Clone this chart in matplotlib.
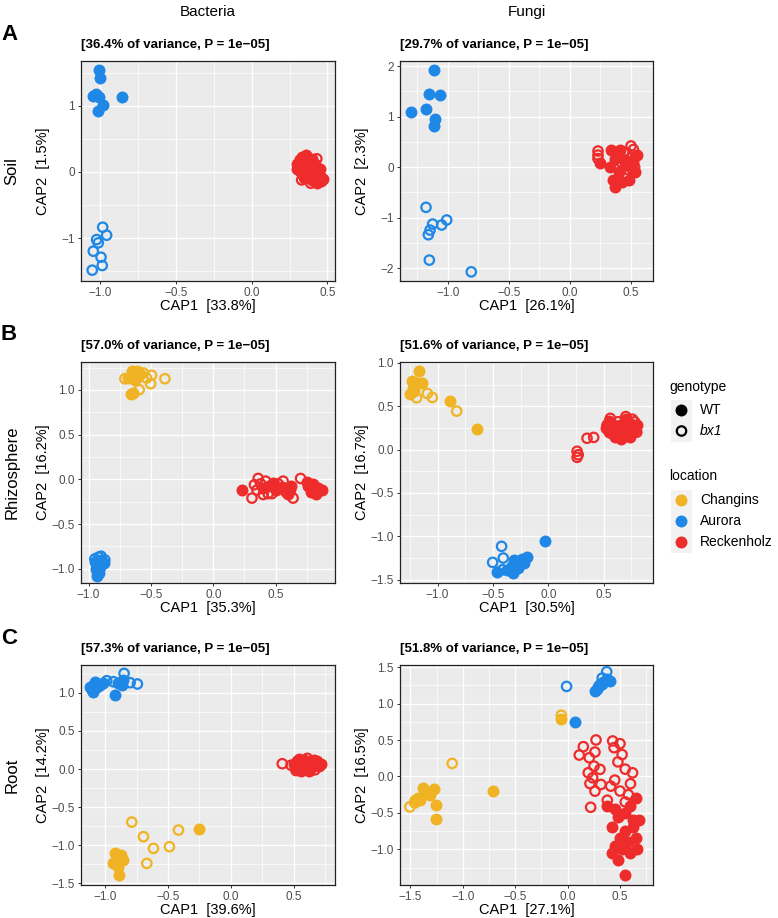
import matplotlib
matplotlib.use("Agg")
import matplotlib.pyplot as plt
from matplotlib.patches import Rectangle

plt.rcParams["font.family"] = ["Liberation Sans", "DejaVu Sans"]

W, H = 778, 918
COLOR = {"Changins": "#F0B323", "Aurora": "#1F88E6", "Reckenholz": "#EE2C2C"}

# ---- data: (CAP1, CAP2) per location x genotype ----
# Soil / Bacteria
SOIL_BAC_AUR_WT = [(-1.007, 1.547), (-1.0, 1.42), (-1.029, 1.18), (-1.007, 1.13), (-0.982, 1.02),
                   (-1.015, 0.917), (-0.857, 1.13), (-1.044, 1.15)]
SOIL_BAC_AUR_BX = [(-0.982, -0.836), (-0.956, -0.957), (-1.022, -1.023), (-1.011, -1.073),
                   (-1.044, -1.199), (-0.993, -1.29), (-0.985, -1.416), (-1.051, -1.486)]
SOIL_BAC_REC_WT = [(0.33, 0.22), (0.36, 0.25), (0.40, 0.20), (0.30, 0.12), (0.35, 0.10), (0.42, 0.12),
                   (0.45, 0.05), (0.32, 0.02), (0.38, 0.00), (0.44, -0.05), (0.47, -0.10), (0.40, -0.12),
                   (0.43, -0.16), (0.36, -0.08), (0.46, -0.14), (0.30, 0.05), (0.41, 0.03), (0.34, -0.04)]
SOIL_BAC_REC_BX = [(0.32, 0.18), (0.38, 0.15), (0.43, 0.20), (0.31, 0.08), (0.37, 0.05), (0.44, 0.00),
                   (0.35, -0.10), (0.40, -0.05), (0.42, -0.15), (0.39, -0.17), (0.46, -0.08), (0.33, -0.12)]
# Soil / Fungi
SOIL_FUN_AUR_WT = [(-1.109, 1.917), (-1.153, 1.454), (-1.063, 1.421), (-1.177, 1.143), (-1.300, 1.097),
                   (-1.104, 0.958), (-1.114, 0.813)]
SOIL_FUN_AUR_BX = [(-1.177, -0.793), (-1.123, -1.124), (-1.008, -1.044), (-1.049, -1.143),
                   (-1.144, -1.243), (-1.158, -1.335), (-1.150, -1.837), (-0.807, -2.069)]
SOIL_FUN_REC_WT = [(0.25, 0.08), (0.34, 0.35), (0.37, 0.17), (0.40, 0.25), (0.35, -0.26), (0.37, -0.40),
                   (0.43, -0.30), (0.40, -0.10), (0.47, 0.05), (0.52, 0.10), (0.53, -0.10), (0.45, 0.15),
                   (0.33, 0.00), (0.48, -0.25), (0.55, 0.25), (0.41, 0.35)]
SOIL_FUN_REC_BX = [(0.23, 0.32), (0.23, 0.24), (0.23, 0.17), (0.50, 0.42), (0.52, 0.35), (0.47, 0.28),
                   (0.42, 0.10), (0.48, -0.05), (0.53, 0.00), (0.45, -0.15), (0.38, 0.05), (0.50, 0.18),
                   (0.44, 0.30)]
# Rhizosphere / Bacteria
RHIZ_BAC_CHA_WT = [(-0.655, 1.207), (-0.615, 1.207), (-0.588, 1.181), (-0.682, 1.133), (-0.628, 1.114),
                   (-0.642, 0.964), (-0.663, 0.957), (-0.602, 1.151)]
RHIZ_BAC_CHA_BX = [(-0.709, 1.125), (-0.594, 1.002), (-0.495, 1.163), (-0.503, 1.069), (-0.388, 1.125),
                   (-0.535, 1.133), (-0.561, 1.189)]
RHIZ_BAC_AUR_WT = [(-0.93, -0.95), (-0.94, -1.0), (-0.92, -1.05), (-0.93, -1.08), (-0.90, -0.90),
                   (-0.88, -0.93), (-0.95, -0.92), (-0.91, -0.98), (-0.93, -1.02)]
RHIZ_BAC_AUR_BX = [(-0.95, -0.89), (-0.90, -0.86), (-0.87, -0.90), (-0.92, -0.87)]
RHIZ_BAC_REC_WT = [(0.23, -0.12), (0.40, -0.10), (0.45, -0.08), (0.50, -0.12), (0.55, -0.09), (0.58, -0.14),
                   (0.62, -0.07), (0.60, -0.16), (0.76, -0.08), (0.80, -0.05), (0.84, -0.10), (0.78, -0.14),
                   (0.87, -0.12), (0.82, -0.16), (0.75, -0.03), (0.48, -0.04)]
RHIZ_BAC_REC_BX = [(0.31, -0.21), (0.36, 0.01), (0.38, -0.05), (0.42, -0.02), (0.44, -0.16), (0.35, -0.12),
                   (0.52, -0.05), (0.56, -0.02), (0.64, -0.21), (0.70, 0.01), (0.47, -0.16), (0.40, -0.17),
                   (0.33, -0.06), (0.62, -0.12)]
# Rhizosphere / Fungi
RHIZ_FUN_CHA_WT = [(-1.169, 0.905), (-1.235, 0.79), (-1.19, 0.763), (-1.145, 0.77), (-1.226, 0.713),
                   (-1.25, 0.636), (-1.21, 0.68), (-0.889, 0.559), (-0.648, 0.239)]
RHIZ_FUN_CHA_BX = [(-1.19, 0.597), (-1.093, 0.647), (-1.048, 0.601), (-0.828, 0.443)]
RHIZ_FUN_AUR_WT = [(-0.03, -1.059), (-0.467, -1.418), (-0.322, -1.425), (-0.286, -1.329), (-0.241, -1.263),
                   (-0.19, -1.24), (-0.331, -1.348), (-0.377, -1.387), (-0.271, -1.367), (-0.22, -1.31),
                   (-0.307, -1.279)]
RHIZ_FUN_AUR_BX = [(-0.422, -1.117), (-0.407, -1.252), (-0.503, -1.302), (-0.413, -1.387)]
RHIZ_FUN_REC_WT = [(0.52, 0.25), (0.55, 0.20), (0.58, 0.30), (0.62, 0.22), (0.65, 0.28), (0.68, 0.18),
                   (0.72, 0.25), (0.75, 0.30), (0.78, 0.22), (0.70, 0.35), (0.60, 0.15), (0.80, 0.28),
                   (0.55, 0.33), (0.66, 0.12), (0.74, 0.15)]
RHIZ_FUN_REC_BX = [(0.26, -0.02), (0.27, -0.06), (0.26, -0.09), (0.35, 0.13), (0.41, 0.14), (0.53, 0.28),
                   (0.56, 0.36), (0.63, 0.32), (0.70, 0.38), (0.76, 0.35), (0.80, 0.20), (0.67, 0.24),
                   (0.58, 0.18), (0.72, 0.15), (0.78, 0.32)]
# Root / Bacteria
ROOT_BAC_AUR_WT = [(-1.093, 1.014), (-1.119, 1.08), (-1.066, 1.071), (-1.04, 1.10), (-1.08, 1.145),
                   (-1.013, 1.123), (-1.106, 1.036), (-0.894, 1.123), (-0.867, 1.10), (-0.92, 0.97),
                   (-0.854, 1.167)]
ROOT_BAC_AUR_BX = [(-0.987, 1.158), (-0.849, 1.254), (-0.801, 1.132), (-0.743, 1.115), (-0.934, 1.145),
                   (-1.05, 1.09)]
ROOT_BAC_CHA_WT = [(-0.252, -0.791), (-0.92, -1.106), (-0.934, -1.237), (-0.886, -1.39), (-0.854, -1.193),
                   (-0.894, -1.158), (-0.90, -1.28), (-0.87, -1.13)]
ROOT_BAC_CHA_BX = [(-0.788, -0.695), (-0.695, -0.887), (-0.615, -1.04), (-0.668, -1.237), (-0.488, -1.018),
                   (-0.416, -0.80)]
ROOT_BAC_REC_WT = [(0.52, 0.02), (0.55, 0.08), (0.58, 0.12), (0.60, 0.05), (0.63, 0.10), (0.65, 0.03),
                   (0.68, 0.07), (0.70, 0.04), (0.56, -0.02), (0.62, -0.03), (0.66, 0.12), (0.72, 0.06),
                   (0.54, 0.13), (0.50, 0.06), (0.59, 0.00)]
ROOT_BAC_REC_BX = [(0.41, 0.07), (0.48, 0.05), (0.53, 0.10), (0.57, 0.04), (0.61, 0.14), (0.64, 0.06),
                   (0.69, 0.10), (0.58, -0.01), (0.52, -0.02), (0.67, -0.01)]
# Root / Fungi
ROOT_FUN_CHA_WT = [(-0.717, -0.202), (-1.277, -0.179), (-1.379, -0.156), (-1.261, -0.386), (-1.258, -0.584),
                   (-1.459, -0.317), (-1.41, -0.33), (-1.31, -0.26), (-1.347, -0.225), (-1.43, -0.30),
                   (-0.067, 0.786)]
ROOT_FUN_CHA_BX = [(-1.102, 0.179), (-1.506, -0.418), (-1.459, -0.363), (-0.06, 0.84)]
ROOT_FUN_AUR_WT = [(0.07, 0.749), (0.277, 1.2), (0.325, 1.268), (0.373, 1.337), (0.404, 1.314),
                   (0.293, 1.222), (0.261, 1.176), (0.34, 1.30), (0.30, 1.25)]
ROOT_FUN_AUR_BX = [(-0.01, 1.236), (0.373, 1.438), (0.33, 1.35)]
ROOT_FUN_REC_WT = [(0.45, -0.45), (0.42, -0.70), (0.48, -0.55), (0.55, -0.50), (0.60, -0.40), (0.65, -0.30),
                   (0.62, -0.60), (0.55, -0.75), (0.50, -0.85), (0.45, -0.95), (0.42, -1.05), (0.52, -1.00),
                   (0.58, -0.90), (0.65, -0.85), (0.68, -0.60), (0.60, -1.05), (0.55, -1.35), (0.48, -1.15),
                   (0.38, -0.40), (0.66, -1.00), (0.62, -0.70)]
ROOT_FUN_REC_BX = [(0.271, 0.501), (0.150, 0.409), (0.111, 0.294), (0.207, 0.257), (0.261, 0.335),
                   (0.430, 0.487), (0.443, 0.395), (0.197, 0.051), (0.252, 0.142), (0.309, 0.097),
                   (0.213, -0.097), (0.261, -0.202), (0.318, -0.110), (0.411, -0.133), (0.379, -0.326),
                   (0.220, -0.423), (0.239, -0.018), (0.50, 0.45), (0.52, 0.30), (0.48, 0.20),
                   (0.55, 0.10), (0.60, -0.10), (0.58, -0.25), (0.62, 0.05), (0.50, -0.20), (0.45, -0.05),
                   (0.55, -0.35)]

TITLES = ["[36.4% of variance, P = 1e\u221205]", "[29.7% of variance, P = 1e\u221205]",
          "[57.0% of variance, P = 1e\u221205]", "[51.6% of variance, P = 1e\u221205]",
          "[57.3% of variance, P = 1e\u221205]", "[51.8% of variance, P = 1e\u221205]"]
XLABELS = ["CAP1  [33.8%]", "CAP1  [26.1%]", "CAP1  [35.3%]", "CAP1  [30.5%]", "CAP1  [39.6%]", "CAP1  [27.1%]"]
YLABELS = ["CAP2  [1.5%]", "CAP2  [2.3%]", "CAP2  [16.2%]", "CAP2  [16.7%]", "CAP2  [14.2%]", "CAP2  [16.5%]"]
ROWS = ["Soil", "Rhizosphere", "Root"]
LETTERS = ["A", "B", "C"]
COLS = ["Bacteria", "Fungi"]

PANELS = [
    {"Aurora": (SOIL_BAC_AUR_WT, SOIL_BAC_AUR_BX), "Reckenholz": (SOIL_BAC_REC_WT, SOIL_BAC_REC_BX)},
    {"Aurora": (SOIL_FUN_AUR_WT, SOIL_FUN_AUR_BX), "Reckenholz": (SOIL_FUN_REC_WT, SOIL_FUN_REC_BX)},
    {"Changins": (RHIZ_BAC_CHA_WT, RHIZ_BAC_CHA_BX), "Aurora": (RHIZ_BAC_AUR_WT, RHIZ_BAC_AUR_BX),
     "Reckenholz": (RHIZ_BAC_REC_WT, RHIZ_BAC_REC_BX)},
    {"Changins": (RHIZ_FUN_CHA_WT, RHIZ_FUN_CHA_BX), "Aurora": (RHIZ_FUN_AUR_WT, RHIZ_FUN_AUR_BX),
     "Reckenholz": (RHIZ_FUN_REC_WT, RHIZ_FUN_REC_BX)},
    {"Changins": (ROOT_BAC_CHA_WT, ROOT_BAC_CHA_BX), "Aurora": (ROOT_BAC_AUR_WT, ROOT_BAC_AUR_BX),
     "Reckenholz": (ROOT_BAC_REC_WT, ROOT_BAC_REC_BX)},
    {"Changins": (ROOT_FUN_CHA_WT, ROOT_FUN_CHA_BX), "Aurora": (ROOT_FUN_AUR_WT, ROOT_FUN_AUR_BX),
     "Reckenholz": (ROOT_FUN_REC_WT, ROOT_FUN_REC_BX)},
]

# axis limits / breaks per panel: xlim, ylim, xmajor, ymajor, xminor, yminor
AXES = [
    ((-1.125, 0.55), (-1.65, 1.68), [-1, -0.5, 0, 0.5], [-1, 0, 1],
     [-0.75, -0.25, 0.25], [-1.5, -0.5, 0.5, 1.5]),
    ((-1.39, 0.68), (-2.25, 2.10), [-1, -0.5, 0, 0.5], [-2, -1, 0, 1, 2],
     [-1.25, -0.75, -0.25, 0.25], [-1.5, -0.5, 0.5, 1.5]),
    ((-1.061, 0.976), (-1.159, 1.312), [-1, -0.5, 0, 0.5], [-1, -0.5, 0, 0.5, 1],
     [-0.75, -0.25, 0.25, 0.75], [-0.75, -0.25, 0.25, 0.75, 1.25]),
    ((-1.34, 0.946), (-1.54, 1.01), [-1, -0.5, 0, 0.5], [-1.5, -1, -0.5, 0, 0.5, 1],
     [-1.25, -0.75, -0.25, 0.25, 0.75], [-1.25, -0.75, -0.25, 0.25, 0.75]),
    ((-1.192, 0.83), (-1.52, 1.364), [-1, -0.5, 0, 0.5], [-1.5, -1, -0.5, 0, 0.5, 1],
     [-0.75, -0.25, 0.25, 0.75], [-1.25, -0.75, -0.25, 0.25, 0.75, 1.25]),
    ((-1.60, 0.815), (-1.49, 1.53), [-1.5, -1, -0.5, 0, 0.5], [-1, -0.5, 0, 0.5, 1, 1.5],
     [-1.25, -0.75, -0.25, 0.25, 0.75], [-1.25, -0.75, -0.25, 0.25, 0.75, 1.25]),
]

# panel boxes in pixels (left, right), (top, bottom)
XPIX = [(81, 335), (400, 653)]
YPIX = [(61, 281), (362, 583), (665, 885)]
S_FILL, S_OPEN, LW_OPEN = 74, 46, 1.6


def fmt(v, ints):
    s = f"{v:.0f}" if ints else f"{v:.1f}"
    return s.replace("-", "\u2212")


def fx(px):
    return px / W


def fy(py):
    return 1 - py / H


fig = plt.figure(figsize=(W / 100, H / 100), dpi=100)

for i, groups in enumerate(PANELS):
    r, c = divmod(i, 2)
    (x0, x1), (y0, y1) = XPIX[c], YPIX[r]
    ax = fig.add_axes([fx(x0), fy(y1), (x1 - x0) / W, (y1 - y0) / H])
    xlim, ylim, xmaj, ymaj, xmin, ymin = AXES[i]
    ax.set_facecolor("#EBEBEB")
    ax.set_axisbelow(True)
    for loc, (wt, bx) in groups.items():
        ax.scatter([p[0] for p in wt], [p[1] for p in wt], s=S_FILL, color=COLOR[loc], lw=0, zorder=3)
        ax.scatter([p[0] for p in bx], [p[1] for p in bx], s=S_OPEN, facecolors="none",
                   edgecolors=COLOR[loc], lw=LW_OPEN, zorder=3)
    ax.set_xlim(*xlim)
    ax.set_ylim(*ylim)
    ax.set_xticks(xmaj)
    ax.set_xticklabels([fmt(v, False) for v in xmaj])
    ints = all(float(v).is_integer() for v in ymaj)
    ax.set_yticks(ymaj)
    ax.set_yticklabels([fmt(v, ints) for v in ymaj])
    ax.set_xticks(xmin, minor=True)
    ax.set_yticks(ymin, minor=True)
    ax.grid(which="major", color="white", lw=1.0)
    ax.grid(which="minor", color="white", lw=0.5)
    ax.tick_params(which="major", length=2.5, width=0.7, color="#333333", labelsize=8.5,
                   labelcolor="#4D4D4D", pad=2)
    ax.tick_params(which="minor", length=0)
    for sp in ax.spines.values():
        sp.set_color("#222222")
        sp.set_linewidth(0.9)

    xc, yc = (x0 + x1) / 2, (y0 + y1) / 2
    fig.text(fx(x0), fy(y0 - 16), TITLES[i], fontsize=9.5, fontweight="bold", ha="left", va="center")
    fig.text(fx(xc), fy(y1 + 25), XLABELS[i], fontsize=10.5, ha="center", va="center")
    fig.text(fx(x0 - 38), fy(yc), YLABELS[i], fontsize=10.5, rotation=90, ha="center", va="center")

for r in range(3):
    y0, y1 = YPIX[r]
    fig.text(fx(1), fy(y0 - 27), LETTERS[r], fontsize=16, fontweight="bold", ha="left", va="center")
    fig.text(fx(12), fy((y0 + y1) / 2), ROWS[r], fontsize=12, rotation=90, ha="center", va="center")
for c in range(2):
    x0, x1 = XPIX[c]
    fig.text(fx((x0 + x1) / 2), fy(12), COLS[c], fontsize=11, ha="center", va="center")

# legend drawn in pixel space
lg = fig.add_axes([0, 0, 1, 1], zorder=5)
lg.set_xlim(0, W)
lg.set_ylim(H, 0)
lg.axis("off")
lg.text(669, 387, "genotype", fontsize=10, ha="left", va="center")
for (yy, lab, filled) in [(410, "WT", True), (431, "bx1", False)]:
    lg.add_patch(Rectangle((671, yy - 10.5), 21, 21, color="#F2F2F2", lw=0))
    if filled:
        lg.scatter([681.5], [yy], s=S_FILL, color="black", lw=0)
    else:
        lg.scatter([681.5], [yy], s=S_OPEN, facecolors="none", edgecolors="black", lw=LW_OPEN)
    lg.text(700, yy, lab, fontsize=10, ha="left", va="center", style="normal" if filled else "italic")
lg.text(669, 476, "location", fontsize=10, ha="left", va="center")
for yy, loc in [(500, "Changins"), (521, "Aurora"), (542, "Reckenholz")]:
    lg.add_patch(Rectangle((671, yy - 10.5), 21, 21, color="#F2F2F2", lw=0))
    lg.scatter([681.5], [yy], s=S_FILL, color=COLOR[loc], lw=0)
    lg.text(700, yy, loc, fontsize=10, ha="left", va="center")

fig.savefig("out.png", dpi=100)
